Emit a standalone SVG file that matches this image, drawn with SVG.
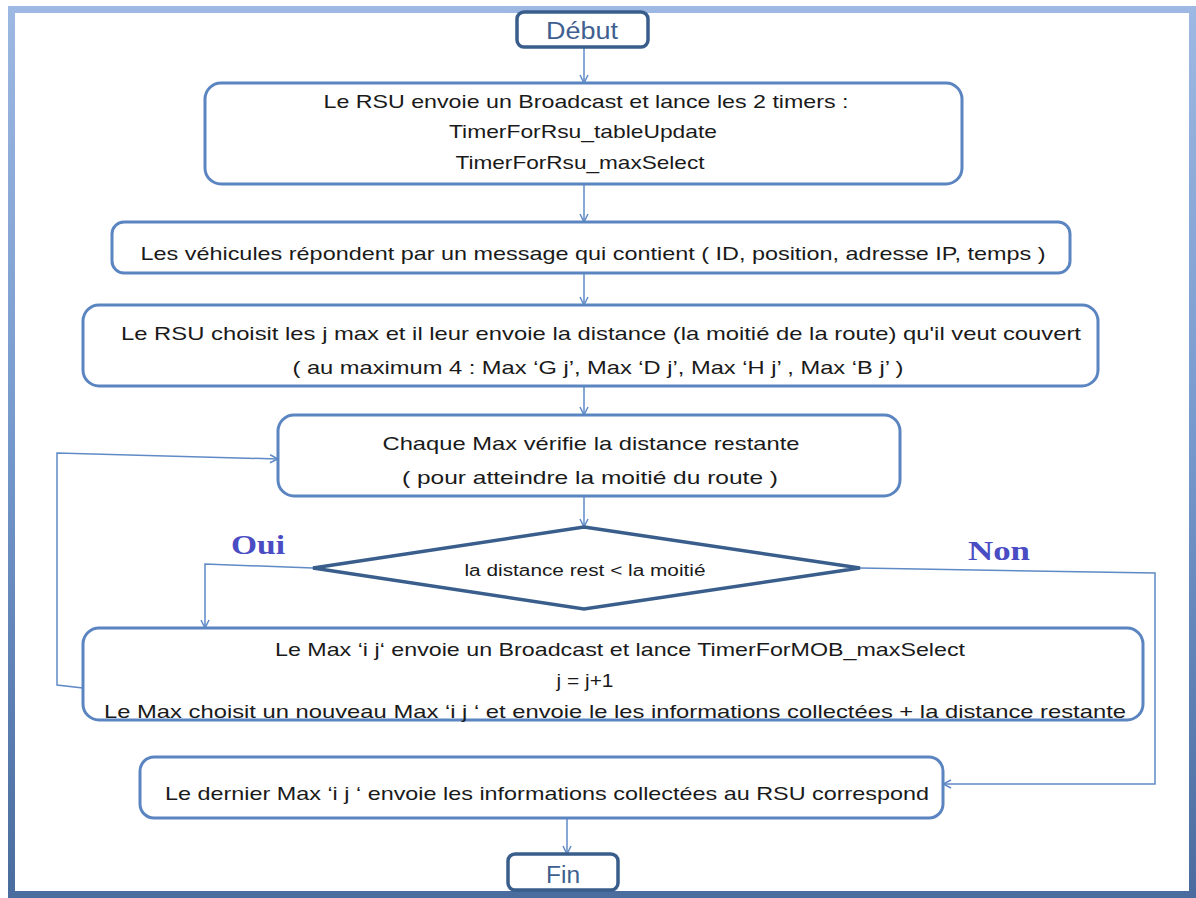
<svg xmlns="http://www.w3.org/2000/svg" width="1196" height="898" viewBox="0 0 1196 898">
<defs>
<linearGradient id="fg" x1="0" y1="0" x2="0" y2="1">
<stop offset="0" stop-color="#9db8e2"/>
<stop offset="0.5" stop-color="#7598cc"/>
<stop offset="1" stop-color="#4a6c9f"/>
</linearGradient>
<marker id="ah" viewBox="0 0 10 10" markerWidth="10" markerHeight="10" markerUnits="userSpaceOnUse" refX="9" refY="5" orient="auto">
<path d="M1,1 L9,5 L1,9" fill="none" stroke="#5f8ac6" stroke-width="1.5"/>
</marker>
<style>
.box{fill:#fff;stroke:#5b85c1;stroke-width:3}
.term{fill:#fff;stroke:#3a5e8c;stroke-width:3.5}
.t{font-family:"Liberation Sans",Arial,sans-serif;font-size:19px;fill:#1a1a1a;text-anchor:middle}
.tt{font-family:"Liberation Sans",Arial,sans-serif;font-size:23px;fill:#3f5f90;text-anchor:middle}
.lbl{font-family:"Liberation Serif","Times New Roman",serif;font-size:27px;font-weight:bold;fill:#4a4cc4}
.c{fill:none;stroke:#5f8ac6;stroke-width:1.5}
</style>
</defs>
<rect x="0" y="0" width="1196" height="898" fill="#fff"/>
<rect x="11.5" y="9.5" width="1181" height="885" fill="#fff" stroke="url(#fg)" stroke-width="7"/>
<g id="connectors">
<line class="c" x1="584" y1="48" x2="584" y2="83" marker-end="url(#ah)"/>
<line class="c" x1="584" y1="185" x2="584" y2="222" marker-end="url(#ah)"/>
<line class="c" x1="584" y1="274" x2="584" y2="305" marker-end="url(#ah)"/>
<line class="c" x1="584" y1="387" x2="584" y2="415" marker-end="url(#ah)"/>
<line class="c" x1="584" y1="497" x2="584" y2="527" marker-end="url(#ah)"/>
<polyline class="c" points="313,568 205,564 205,628" marker-end="url(#ah)"/>
<polyline class="c" points="83,688 57,685 57,453 278,459" marker-end="url(#ah)"/>
<polyline class="c" points="860,568 1155,573 1155,784 943,784" marker-end="url(#ah)"/>
<line class="c" x1="567" y1="819" x2="567" y2="854" marker-end="url(#ah)"/>
</g>
<g id="debut">
<rect class="term" x="517" y="12" width="131" height="35" rx="7"/>
<text class="tt" x="582" y="39" textLength="72" lengthAdjust="spacingAndGlyphs">Début</text>
</g>
<g id="n1">
<rect class="box" x="205" y="83" width="757" height="101" rx="16"/>
<text class="t" x="586" y="108" textLength="525" lengthAdjust="spacingAndGlyphs">Le RSU envoie  un Broadcast et lance les 2 timers :</text>
<text class="t" x="583" y="138" textLength="268" lengthAdjust="spacingAndGlyphs">TimerForRsu_tableUpdate</text>
<text class="t" x="580" y="169" textLength="249" lengthAdjust="spacingAndGlyphs">TimerForRsu_maxSelect</text>
</g>
<g id="n2">
<rect class="box" x="112" y="222" width="958" height="51" rx="12"/>
<text class="t" x="593" y="260" textLength="905" lengthAdjust="spacingAndGlyphs">Les véhicules  répondent  par un message qui contient  ( ID, position,  adresse IP, temps )</text>
</g>
<g id="n3">
<rect class="box" x="83" y="305" width="1015" height="81" rx="16"/>
<text class="t" x="601" y="340" textLength="960" lengthAdjust="spacingAndGlyphs">Le RSU choisit les j max  et il leur envoie  la distance (la moitié de la route) qu'il veut couvert</text>
<text class="t" x="598" y="374" textLength="611" lengthAdjust="spacingAndGlyphs">( au maximum 4 : Max ‘G j’, Max ‘D j’, Max ‘H j’ , Max ‘B j’ )</text>
</g>
<g id="n4">
<rect class="box" x="278" y="415" width="622" height="81" rx="16"/>
<text class="t" x="591" y="450" textLength="417" lengthAdjust="spacingAndGlyphs">Chaque Max vérifie la distance restante</text>
<text class="t" x="590" y="484" textLength="376" lengthAdjust="spacingAndGlyphs">( pour atteindre la moitié du route )</text>
</g>
<g id="decision">
<polygon points="584,527 860,568 584,609 313,568" fill="#fff" stroke="#3a5e8c" stroke-width="3.5" stroke-linejoin="miter"/>
<text class="t" x="585" y="576" style="font-size:16px" textLength="241" lengthAdjust="spacingAndGlyphs">la distance rest &lt; la moitié</text>
</g>
<g id="labels">
<text class="lbl" x="231" y="554" textLength="54" lengthAdjust="spacingAndGlyphs">Oui</text>
<text class="lbl" x="968" y="560" textLength="62" lengthAdjust="spacingAndGlyphs">Non</text>
</g>
<g id="n5">
<rect class="box" x="83" y="628" width="1060" height="92" rx="16"/>
<text class="t" x="620" y="656" textLength="690" lengthAdjust="spacingAndGlyphs">Le Max ‘i j‘ envoie  un Broadcast et lance TimerForMOB_maxSelect</text>
<text class="t" x="585" y="687" textLength="57" lengthAdjust="spacingAndGlyphs">j = j+1</text>
<text class="t" x="615" y="718" textLength="1022" lengthAdjust="spacingAndGlyphs">Le Max choisit un nouveau  Max ‘i j ‘ et envoie le les informations  collectées + la distance restante</text>
</g>
<g id="n6">
<rect class="box" x="140" y="757" width="803" height="61" rx="14"/>
<text class="t" x="547" y="800" textLength="764" lengthAdjust="spacingAndGlyphs">Le dernier  Max ‘i j ‘ envoie  les informations  collectées au RSU correspond</text>
</g>
<g id="fin">
<rect class="term" x="508" y="854" width="110" height="36" rx="7"/>
<text class="tt" x="563" y="883" textLength="34" lengthAdjust="spacingAndGlyphs">Fin</text>
</g>
</svg>
